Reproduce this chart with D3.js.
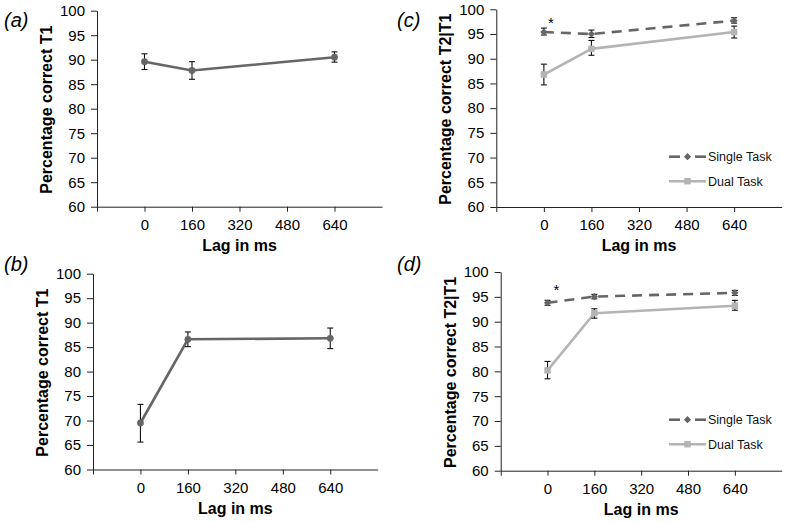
<!DOCTYPE html>
<html>
<head>
<meta charset="utf-8">
<script src="https://cdn.jsdelivr.net/npm/d3@7"></script>
<style>
  html, body { margin: 0; padding: 0; background: #fff; }
  svg { display: block; font-family: "Liberation Sans", Arial, sans-serif; }
</style>
</head>
<body>
<svg id="chart" width="788" height="522"></svg>
<script>
// ---------- data ----------
const lags = [0, 160, 640];
const xTickValues = [0, 160, 320, 480, 640];
const yTickValues = [60, 65, 70, 75, 80, 85, 90, 95, 100];
const seriesNames = ["Single Task", "Dual Task"];

const panelA_mean = [89.6, 87.8, 90.5];
const panelA_lo   = [88.0, 86.0, 89.5];
const panelA_hi   = [91.2, 89.6, 91.6];

const panelB_mean = [69.5, 86.6, 86.8];
const panelB_lo   = [65.6, 85.1, 84.7];
const panelB_hi   = [73.3, 88.1, 88.9];

const panelC_single    = [95.4, 95.0, 97.7];
const panelC_single_lo = [94.8, 94.3, 97.2];
const panelC_single_hi = [96.2, 95.8, 98.3];
const panelC_dual      = [86.8, 92.0, 95.4];
const panelC_dual_lo   = [84.7, 90.7, 94.2];
const panelC_dual_hi   = [88.9, 93.7, 96.6];

const panelD_single    = [93.8, 95.05, 95.8];
const panelD_single_lo = [93.3, 94.6, 95.3];
const panelD_single_hi = [94.3, 95.5, 96.3];
const panelD_dual      = [80.2, 91.7, 93.2];
const panelD_dual_lo   = [78.5, 90.7, 92.3];
const panelD_dual_hi   = [82.0, 92.6, 94.3];

// ---------- helpers ----------
const svg = d3.select("#chart");
const DARK = "#666666", LIGHT = "#b4b4b4";

function zip(mean, lo, hi) {
  return lags.map((l, i) => ({ lag: l, v: mean[i], lo: lo[i], hi: hi[i] }));
}

function marker(g, s, tx, ty) {
  g.append("path")
    .attr("transform", `translate(${tx},${ty})${s.marker === "diamond" ? " rotate(45)" : ""}`)
    .attr("d", d3.symbol().type(s.marker === "circle" ? d3.symbolCircle : d3.symbolSquare).size(s.msize))
    .attr("fill", s.color);
}

function panel(cfg) {
  const x = d3.scaleLinear().domain([-160, 800]).range([cfg.x0, cfg.x1]);
  const y = d3.scaleLinear().domain([60, 100]).range([cfg.y0, cfg.y1]);
  const g = svg.append("g");

  // y axis
  const ya = g.append("g").attr("transform", `translate(${cfg.x0},0)`)
    .call(d3.axisLeft(y).tickValues(yTickValues).tickSize(6).tickPadding(6).tickSizeOuter(0));
  ya.selectAll("text").attr("font-size", 15).attr("fill", "#000").attr("font-family", "Liberation Sans, Arial");
  ya.selectAll("line, path").attr("stroke", "#222");

  // x axis
  const xa = g.append("g").attr("transform", `translate(0,${cfg.y0})`)
    .call(d3.axisBottom(x).tickValues([-160].concat(xTickValues)).tickSize(5).tickPadding(5)
      .tickSizeOuter(0).tickFormat(d => d < 0 ? "" : d));
  xa.selectAll("text").attr("font-size", 15).attr("fill", "#000").attr("font-family", "Liberation Sans, Arial").attr("dy", "0.88em");
  xa.selectAll("line, path").attr("stroke", "#222");

  // titles
  g.append("text")
    .attr("transform", `translate(${cfg.x0 - 45},${(cfg.y0 + cfg.y1) / 2 + 1}) rotate(-90)`)
    .attr("text-anchor", "middle").attr("font-weight", "bold").attr("font-size", 16)
    .text(cfg.ytitle);
  g.append("text")
    .attr("x", (cfg.x0 + cfg.x1) / 2).attr("y", cfg.y0 + 44)
    .attr("text-anchor", "middle").attr("font-weight", "bold").attr("font-size", 16)
    .text("Lag in ms");
  g.append("text")
    .attr("x", cfg.lx).attr("y", cfg.ly)
    .attr("font-style", "italic").attr("font-size", 20)
    .text(cfg.label);

  const line = d3.line().x(d => x(d.lag)).y(d => y(d.v));

  cfg.series.forEach(s => {
    g.append("path").datum(s.data)
      .attr("d", line).attr("fill", "none")
      .attr("stroke", s.color).attr("stroke-width", 2.6)
      .attr("stroke-dasharray", s.dash || null);
  });

  cfg.series.forEach(s => {
    // error bars
    const eb = g.append("g").attr("stroke", "#111").attr("stroke-width", 1.1);
    s.data.forEach(d => {
      eb.append("line").attr("x1", x(d.lag)).attr("x2", x(d.lag)).attr("y1", y(d.lo)).attr("y2", y(d.hi));
      eb.append("line").attr("x1", x(d.lag) - 3).attr("x2", x(d.lag) + 3).attr("y1", y(d.lo)).attr("y2", y(d.lo));
      eb.append("line").attr("x1", x(d.lag) - 3).attr("x2", x(d.lag) + 3).attr("y1", y(d.hi)).attr("y2", y(d.hi));
    });
    s.data.forEach(d => marker(g, s, x(d.lag), y(d.v)));
  });

  if (cfg.legend) {
    const L = cfg.legend;
    cfg.series.forEach((s, i) => {
      const ly = L.y + i * 24.5;
      if (s.dash) {
        g.append("line").attr("x1", L.x).attr("x2", L.x + 11).attr("y1", ly).attr("y2", ly)
          .attr("stroke", s.color).attr("stroke-width", 2.6);
        g.append("line").attr("x1", L.x + 26).attr("x2", L.x + 37).attr("y1", ly).attr("y2", ly)
          .attr("stroke", s.color).attr("stroke-width", 2.6);
      } else {
        g.append("line").attr("x1", L.x).attr("x2", L.x + 37).attr("y1", ly).attr("y2", ly)
          .attr("stroke", s.color).attr("stroke-width", 2.6);
      }
      marker(g, s, L.x + 18.5, ly);
      g.append("text").attr("x", L.x + 39).attr("y", ly + 4.5)
        .attr("font-size", 12.5).attr("fill", "#111").text(seriesNames[i]);
    });
  }
  if (cfg.star) {
    g.append("text").attr("x", x(cfg.star.lag)).attr("y", y(cfg.star.v))
      .attr("text-anchor", "middle").attr("font-size", 15).text("*");
  }
}

panel({
  x0: 97, x1: 382, y0: 206.7, y1: 10.7, label: "(a)", lx: 4, ly: 27,
  ytitle: "Percentage correct T1",
  series: [{ data: zip(panelA_mean, panelA_lo, panelA_hi), color: DARK, marker: "circle", msize: 36 }]
});
panel({
  x0: 93, x1: 377.7, y0: 469.5, y1: 273.7, label: "(b)", lx: 4, ly: 271,
  ytitle: "Percentage correct T1",
  series: [{ data: zip(panelB_mean, panelB_lo, panelB_hi), color: DARK, marker: "circle", msize: 36 }]
});
panel({
  x0: 496.3, x1: 781.7, y0: 207, y1: 9.3, label: "(c)", lx: 397, ly: 27,
  ytitle: "Percentage correct T2|T1",
  legend: { x: 669, y: 156.7 },
  star: { lag: 24, v: 96.3 },
  series: [
    { data: zip(panelC_single, panelC_single_lo, panelC_single_hi), color: DARK, marker: "diamond", msize: 26, dash: "10,7" },
    { data: zip(panelC_dual, panelC_dual_lo, panelC_dual_hi), color: LIGHT, marker: "square", msize: 42 }
  ]
});
panel({
  x0: 500.7, x1: 781.7, y0: 470.7, y1: 272, label: "(d)", lx: 397, ly: 271,
  ytitle: "Percentage correct T2|T1",
  legend: { x: 669, y: 419.7 },
  star: { lag: 30, v: 95.3 },
  series: [
    { data: zip(panelD_single, panelD_single_lo, panelD_single_hi), color: DARK, marker: "diamond", msize: 26, dash: "10,7" },
    { data: zip(panelD_dual, panelD_dual_lo, panelD_dual_hi), color: LIGHT, marker: "square", msize: 42 }
  ]
});
</script>
</body>
</html>
